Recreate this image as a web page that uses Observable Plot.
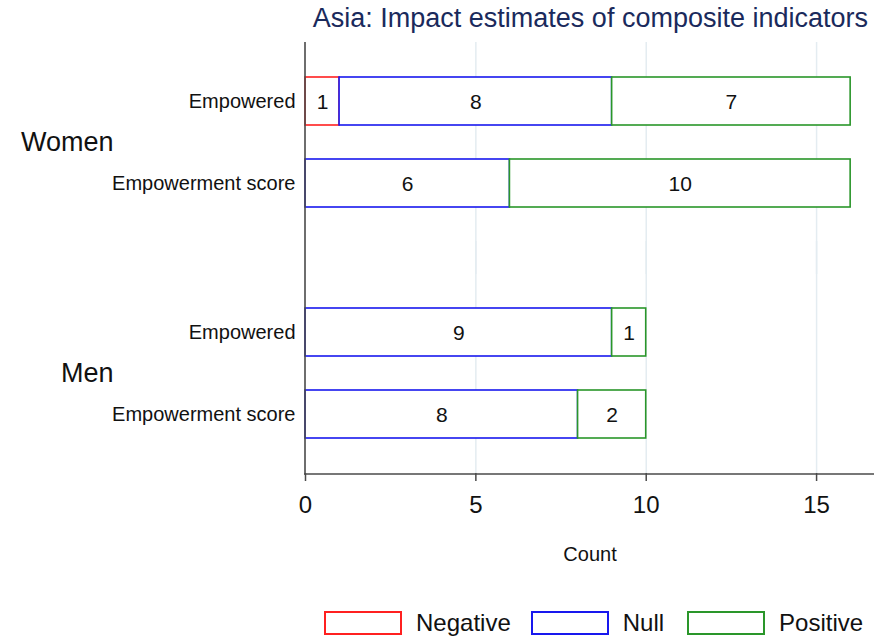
<!DOCTYPE html>
<html>
<head>
<meta charset="utf-8">
<script src="https://cdn.jsdelivr.net/npm/d3@7"></script>
<script src="https://cdn.jsdelivr.net/npm/@observablehq/plot@0.6"></script>
<style>
  body { margin: 0; background: #fff; font-family: "Liberation Sans", Arial, sans-serif; }
  #wrap { width: 886px; height: 637px; position: relative; overflow: hidden; }
  #title { height: 40px; line-height: 36px; font-size: 27px; color: #1a2a5c; text-align: right; padding-right: 18px; box-sizing: border-box; white-space: nowrap; }
  #legend { display: flex; align-items: center; padding-left: 324px; padding-top: 3px; font-size: 24px; color: #111; }
  .item { display: flex; align-items: center; }
  .sw { width: 74px; height: 20px; border: 2px solid; background: #fff; }
  .lab { margin-left: 14px; }
</style>
</head>
<body>
<div id="wrap">
  <div id="title">Asia: Impact estimates of composite indicators</div>
  <div id="chart"></div>
  <div id="legend"></div>
</div>
<script>
const groups = ["Women", "Men"];
const indicators = ["Empowered", "Empowerment score"];
const impacts = ["Negative", "Null", "Positive"];
const impactColors = ["#ff2020", "#1818ee", "#2a962a"];
const womenEmpowered = [1, 8, 7];
const womenScore = [0, 6, 10];
const menEmpowered = [0, 9, 1];
const menScore = [0, 8, 2];
const xTicks = [0, 5, 10, 15];
const gridTicks = [5, 10, 15];
const xLabel = "Count";

const series = {
  Women: {Empowered: womenEmpowered, "Empowerment score": womenScore},
  Men: {Empowered: menEmpowered, "Empowerment score": menScore}
};
const rows = [];
for (const g of groups) for (const ind of indicators) impacts.forEach((imp, k) => {
  const c = series[g][ind][k];
  if (c > 0) rows.push({group: g, indicator: ind, impact: imp, count: c});
});

const gridColor = "#e4ecf1";
const axisColor = "#4a4a4a";
const W = 886, H = 566, MT = 2, ML = 305, MR = 12, MB = 132;

const plot = Plot.plot({
  width: W,
  height: H,
  marginTop: MT,
  marginLeft: ML,
  marginRight: MR,
  marginBottom: MB,
  style: {fontFamily: '"Liberation Sans", Arial, sans-serif', color: "#111", background: "#fff"},
  x: {domain: [0, 16.7], ticks: xTicks, label: null},
  y: {domain: indicators, padding: 0.42, label: null},
  fy: {domain: groups, paddingInner: 0.134, paddingOuter: 0, axis: null, label: null},
  color: {domain: impacts, range: impactColors},
  marks: [
    Plot.ruleX(gridTicks, {x: d => d, fy: () => "Women", stroke: gridColor, strokeWidth: 1.5, insetBottom: -32}),
    Plot.ruleX(gridTicks, {x: d => d, fy: () => "Men", stroke: gridColor, strokeWidth: 1.5, insetTop: -32}),
    Plot.barX(rows, Plot.stackX({
      x: "count", y: "indicator", fy: "group", z: "impact", order: impacts,
      stroke: "impact", fill: "white", strokeWidth: 1.6
    })),
    Plot.text(rows, Plot.stackX({
      x: "count", y: "indicator", fy: "group", z: "impact", order: impacts,
      text: "count", fontSize: 21, fill: "#111", dy: 1
    })),
    Plot.axisY({tickSize: 0, tickPadding: 10, fontSize: 20, label: null}),
    Plot.axisX({ticks: xTicks, tickSize: 8, tickPadding: 14, fontSize: 24, label: null, stroke: axisColor, strokeWidth: 1.5}),
    Plot.text(groups, {fy: d => d, text: d => d, frameAnchor: "left", dx: -192, textAnchor: "end", lineAnchor: "middle", fontSize: 27, fill: "#111"}),
    Plot.text([xLabel], {fy: () => "Men", text: d => d, frameAnchor: "bottom", lineAnchor: "middle", dy: 81, fontSize: 20, fill: "#111"})
  ]
});
document.getElementById("chart").appendChild(plot);

// continuous axis lines across both facets, positioned with Plot's x scale
const sx = plot.scale("x");
const svg = d3.select(plot);
const x0 = sx.apply(0), x1 = sx.apply(sx.domain[1]);
const yTop = MT, yBot = H - MB;
const axisG = svg.append("g").attr("stroke", axisColor).attr("stroke-width", 1.6);
axisG.append("line").attr("x1", x0).attr("x2", x0).attr("y1", yTop).attr("y2", yBot + 0.8);
axisG.append("line").attr("x1", x0 - 0.8).attr("x2", x1).attr("y1", yBot).attr("y2", yBot);

const legendGaps = [20, 23, 0];
const legend = d3.select("#legend");
impacts.forEach((imp, k) => {
  const it = legend.append("div").attr("class", "item").style("margin-right", legendGaps[k] + "px");
  it.append("div").attr("class", "sw").style("border-color", impactColors[k]);
  it.append("div").attr("class", "lab").text(imp);
});
</script>
</body>
</html>
